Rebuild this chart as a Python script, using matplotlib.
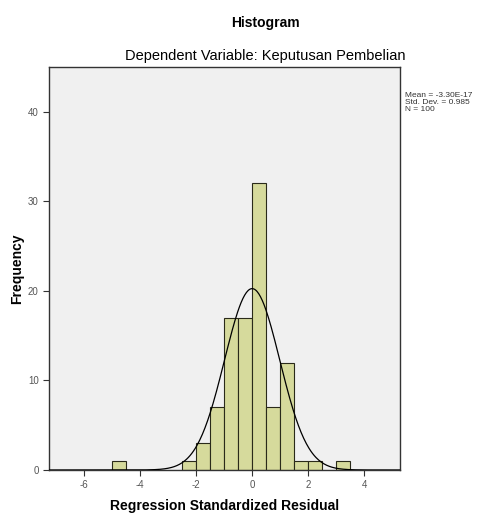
import matplotlib
matplotlib.use("Agg")
import matplotlib.pyplot as plt
import numpy as np

plt.rcParams['font.family'] = ['Liberation Sans', 'DejaVu Sans']
plt.rcParams['axes.unicode_minus'] = False

# Histogram bins (width 0.5) and counts
bin_left = [-5.0, -2.5, -2.0, -1.5, -1.0, -0.5, 0.0, 0.5, 1.0, 1.5, 2.0, 3.0]
counts = [1, 1, 3, 7, 17, 17, 32, 7, 12, 1, 1, 1]
bin_width = 0.5

mean = -3.30e-17
std_dev = 0.985
n_total = 100

x_ticks = [-6, -4, -2, 0, 2, 4]
y_ticks = [0, 10, 20, 30, 40]

fig = plt.figure(figsize=(4.78, 5.18), dpi=100)
ax = fig.add_axes([0.1025, 0.0927, 0.7345, 0.778])
ax.set_facecolor('#f0f0f0')

ax.bar(bin_left, counts, width=bin_width, align='edge',
       color='#d6da9c', edgecolor='#2a2a1a', linewidth=0.8, zorder=2)

# normal curve
xs = np.linspace(-7.25, 5.3, 400)
ys = n_total * bin_width / (std_dev * np.sqrt(2 * np.pi)) * np.exp(-0.5 * ((xs - mean) / std_dev) ** 2)
ax.plot(xs, ys, color='black', linewidth=0.9, zorder=3)

ax.set_xlim(-7.25, 5.28)
ax.set_ylim(0, 45)
ax.set_xticks(x_ticks)
ax.set_yticks(y_ticks)
ax.tick_params(axis='both', labelsize=7, colors='#333333', length=4, width=0.8,
               labelcolor='#555555')
for s in ax.spines.values():
    s.set_color('#333333')
    s.set_linewidth(1.0)

ax.set_xlabel('Regression Standardized Residual', fontsize=10, fontweight='bold', labelpad=6)
ax.set_ylabel('Frequency', fontsize=10, fontweight='bold')
ax.yaxis.set_label_coords(-0.071, 0.5)

fig.text(0.556, 0.956, 'Histogram', ha='center', va='center', fontsize=10, fontweight='bold')
fig.text(0.555, 0.892, 'Dependent Variable: Keputusan Pembelian', ha='center', va='center',
         fontsize=10.5)

fig.text(0.847, 0.822, 'Mean = -3.30E-17\nStd. Dev. = 0.985\nN = 100', ha='left', va='top',
         fontsize=6, color='#333333', linespacing=0.95)

fig.savefig('out.png', dpi=100, facecolor='white')
